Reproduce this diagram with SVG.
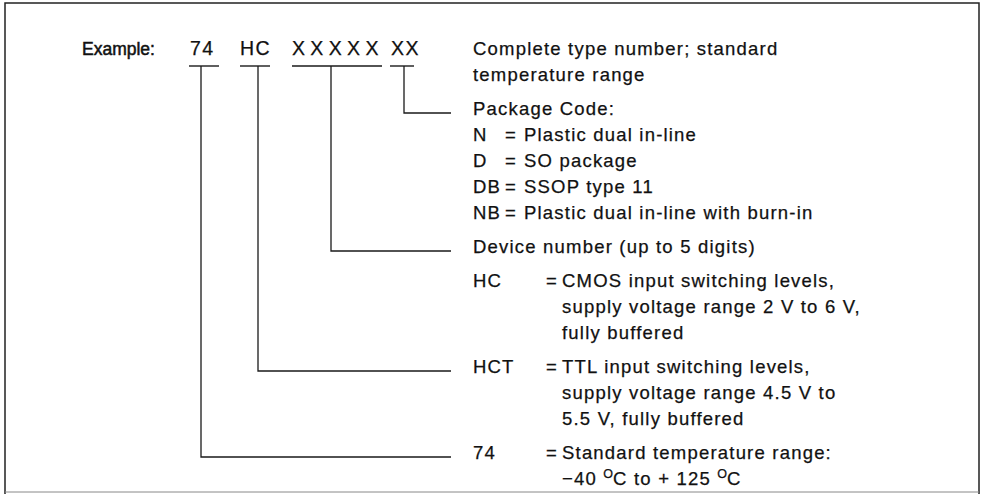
<svg xmlns="http://www.w3.org/2000/svg" width="984" height="495" viewBox="0 0 984 495">
<style>
  text { font-family: "Liberation Sans", Arial, Helvetica, sans-serif; font-size: 18.5px; fill: #111; stroke: #111; stroke-width: 0.25; letter-spacing: 1.2px; }
  .code { font-size: 19.5px; letter-spacing: 1.5px; }
  .lbl { font-size: 17.5px; letter-spacing: 0; stroke-width: 0.5; }
  .ul { stroke: #1a1a1a; stroke-width: 1.4; fill: none; }
  .conn { stroke: #1a1a1a; stroke-width: 1.3; fill: none; }
  .frame { stroke: #222; stroke-width: 1.5; fill: none; }
  .sup { font-size: 12.5px; letter-spacing: 0; }
</style>
<rect width="984" height="495" fill="#ffffff"/>
<g id="frame">
  <path class="frame" d="M5,494 V3 H979 V494"/>
  <line x1="5" y1="492" x2="979" y2="492" stroke="#888" stroke-width="1"/>
</g>
<g id="example-label"><text class="lbl" x="82" y="55">Example:</text></g>
<g id="seg-74"><text class="code" x="190" y="55">74</text><line class="ul" x1="189" y1="66" x2="219" y2="66"/></g>
<g id="seg-hc"><text class="code" x="240" y="55">HC</text><line class="ul" x1="240" y1="66" x2="270" y2="66"/></g>
<g id="seg-xxxxx"><text class="code" x="292" y="55" textLength="88" lengthAdjust="spacing">XXXXX</text><line class="ul" x1="292" y1="66" x2="382" y2="66"/></g>
<g id="seg-xx"><text class="code" x="391" y="55">XX</text><line class="ul" x1="390" y1="66" x2="414" y2="66"/></g>
<g id="connectors">
  <polyline class="conn" points="404,66 404,113 451,113"/>
  <polyline class="conn" points="331,66 331,251 451,251"/>
  <polyline class="conn" points="258,66 258,371 451,371"/>
  <polyline class="conn" points="201,66 201,457 451,457"/>
</g>
<g id="desc-complete">
  <text x="473" y="55">Complete type number; standard</text>
  <text x="473" y="81">temperature range</text>
</g>
<g id="desc-package">
  <text x="473" y="115">Package Code:</text>
  <text x="473" y="141">N</text><text x="505" y="141">=</text><text x="524" y="141">Plastic dual in-line</text>
  <text x="473" y="167">D</text><text x="505" y="167">=</text><text x="524" y="167">SO package</text>
  <text x="473" y="193">DB</text><text x="505" y="193">=</text><text x="524" y="193">SSOP type 11</text>
  <text x="473" y="219">NB</text><text x="505" y="219">=</text><text x="524" y="219">Plastic dual in-line with burn-in</text>
</g>
<g id="desc-device">
  <text x="473" y="253">Device number (up to 5 digits)</text>
</g>
<g id="desc-hc">
  <text x="473" y="287">HC</text><text x="546" y="287">=</text><text x="562" y="287">CMOS input switching levels,</text>
  <text x="562" y="313">supply voltage range 2 V to 6 V,</text>
  <text x="562" y="339">fully buffered</text>
</g>
<g id="desc-hct">
  <text x="473" y="373">HCT</text><text x="546" y="373">=</text><text x="562" y="373">TTL input switching levels,</text>
  <text x="562" y="399">supply voltage range 4.5 V to</text>
  <text x="562" y="425">5.5 V, fully buffered</text>
</g>
<g id="desc-74">
  <text x="473" y="459">74</text><text x="546" y="459">=</text><text x="562" y="459">Standard temperature range:</text>
  <text x="562" y="485">−40 <tspan class="sup" dy="-7">O</tspan><tspan dy="7">C to + 125 </tspan><tspan class="sup" dy="-7">O</tspan><tspan dy="7">C</tspan></text>
</g>
</svg>
